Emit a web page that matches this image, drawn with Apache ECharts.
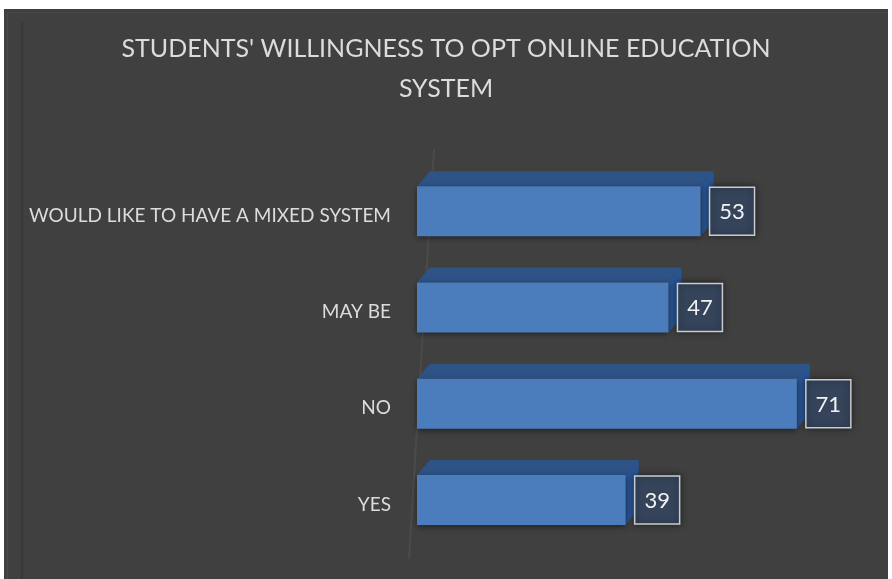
<!DOCTYPE html>
<html>
<head>
<meta charset="utf-8">
<script src="https://cdn.jsdelivr.net/npm/echarts@6/dist/echarts.min.js"></script>
<style>
  html, body { margin: 0; padding: 0; background: #ffffff; }
  #chart { position: absolute; left: 4px; top: 9px; width: 884px; height: 570px; }
</style>
</head>
<body>
<div id="chart"></div>
<script>
// Survey answers, top to bottom
const categories = ['WOULD LIKE TO HAVE A MIXED SYSTEM', 'MAY BE', 'NO', 'YES'];
const responses = [53, 47, 71, 39];
const titleText = "STUDENTS' WILLINGNESS TO OPT ONLINE EDUCATION\nSYSTEM";

const chart = echarts.init(document.getElementById('chart'), null, { renderer: 'canvas' });

// Depth of the extruded bar faces
const DX = 13, DY = 15;
const FRONT_H = 50;

function renderBar(params, api) {
  const cat = api.value(0);
  const val = api.value(1);
  const p0 = api.coord([0, cat]);
  const p1 = api.coord([val, cat]);
  const x0 = p0[0], x1 = p1[0], cy = p0[1];
  const yT = cy - FRONT_H / 2, yB = cy + FRONT_H / 2;
  const boxX = x1 + 9, boxW = 45, boxH = 48;
  return {
    type: 'group',
    children: [
      { // top face
        type: 'polygon',
        shape: { points: [[x0, yT], [x1, yT], [x1 + DX, yT - DY], [x0 + DX, yT - DY]] },
        style: { fill: '#2d5387' }
      },
      { // side face
        type: 'polygon',
        shape: { points: [[x1, yT], [x1 + DX, yT - DY], [x1 + DX, yB - DY], [x1, yB]] },
        style: { fill: '#2a5593' }
      },
      { // front face
        type: 'rect',
        shape: { x: x0, y: yT, width: x1 - x0, height: FRONT_H },
        style: { fill: '#4b7dbd', shadowBlur: 6, shadowColor: 'rgba(0,0,0,0.45)', shadowOffsetY: 2 }
      },
      { // value box
        type: 'rect',
        shape: { x: boxX, y: cy - boxH / 2, width: boxW, height: boxH },
        style: { fill: '#35445a', stroke: '#c9ccd1', lineWidth: 1.5, shadowBlur: 6, shadowColor: 'rgba(0,0,0,0.5)' }
      },
      {
        type: 'text',
        x: boxX + boxW / 2, y: cy + 1,
        style: {
          text: String(val), fill: '#f2f2f2', fontSize: 22,
          fontFamily: 'Lato, "Open Sans", sans-serif',
          align: 'center', verticalAlign: 'middle'
        }
      }
    ]
  };
}

chart.setOption({
  backgroundColor: '#404040',
  animation: false,
  title: {
    text: titleText,
    left: 'center',
    top: 15,
    textStyle: {
      color: '#dcdcdc', fontSize: 25, fontWeight: 'normal',
      fontFamily: 'Lato, "Open Sans", sans-serif', lineHeight: 40
    }
  },
  grid: { left: 413, right: 43, top: 154, bottom: 31 },
  xAxis: {
    type: 'value', min: 0, max: 80, interval: 10,
    show: false
  },
  yAxis: {
    type: 'category', data: categories, inverse: true,
    axisLine: { show: false }, axisTick: { show: false },
    axisLabel: {
      margin: 26,
      formatter: v => '{c|' + v + '}',
      rich: {
        c: {
          color: '#dcdcdc', fontSize: 19,
          fontFamily: 'Lato, "Open Sans", sans-serif',
          padding: [9, 0, 0, 0]
        }
      }
    }
  },
  series: [{
    type: 'custom',
    renderItem: renderBar,
    encode: { x: 1, y: 0 },
    data: responses.map((v, i) => [i, v])
  }],
  graphic: [
    { // chart area frame
      type: 'rect', left: 1, top: 1,
      shape: { x: 0, y: 0, width: 881, height: 600 },
      style: { fill: 'none', stroke: '#4a4a4a', lineWidth: 1 }, silent: true
    },
    {
      type: 'line', silent: true,
      shape: { x1: 18, y1: 13, x2: 18, y2: 570 },
      style: { stroke: '#383838', lineWidth: 2 }
    },
    { // back wall edge of the 3D plot
      type: 'line', silent: true,
      shape: { x1: 430, y1: 140, x2: 405, y2: 550 },
      style: { stroke: 'rgba(130,110,100,0.22)', lineWidth: 2 }
    }
  ]
});
</script>
</body>
</html>
